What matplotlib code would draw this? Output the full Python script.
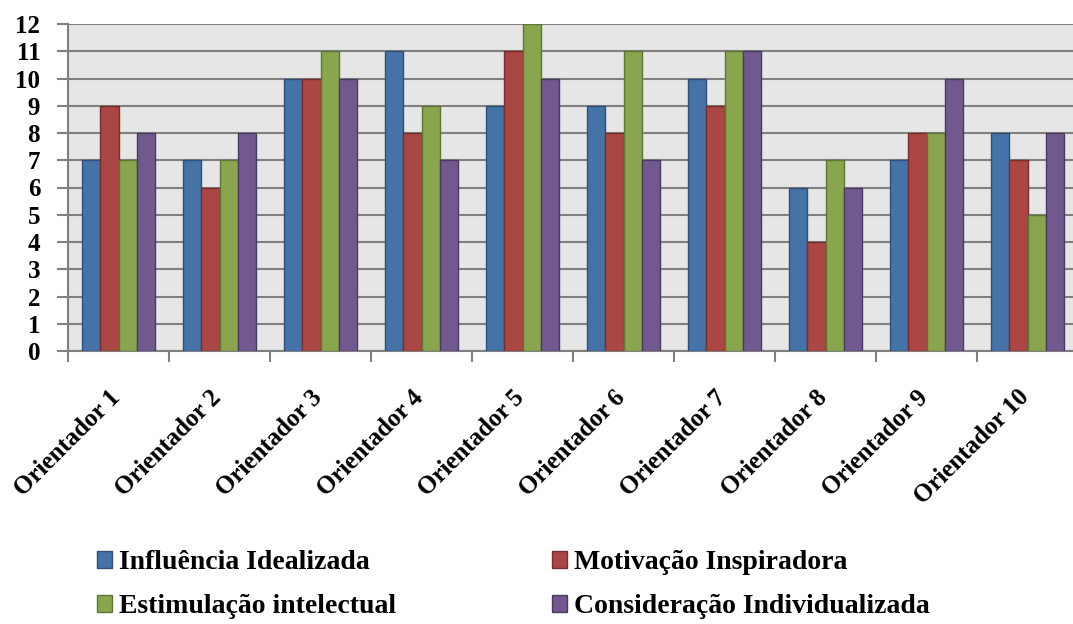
import matplotlib.pyplot as plt
import matplotlib.transforms as mtransforms
import numpy as np

orientadores = ['Orientador 1', 'Orientador 2', 'Orientador 3', 'Orientador 4', 'Orientador 5',
                'Orientador 6', 'Orientador 7', 'Orientador 8', 'Orientador 9', 'Orientador 10']
influencia = [7, 7, 10, 11, 9, 9, 10, 6, 7, 8]
motivacao = [9, 6, 10, 8, 11, 8, 9, 4, 8, 7]
estimulacao = [7, 7, 11, 9, 12, 11, 11, 7, 8, 5]
consideracao = [8, 8, 10, 7, 10, 7, 11, 6, 10, 8]

series = [
    ('Influência Idealizada', influencia, '#4572A7', '#2F4F7A'),
    ('Motivação Inspiradora', motivacao, '#AA4643', '#7A2E2C'),
    ('Estimulação intelectual', estimulacao, '#89A54E', '#5E7634'),
    ('Consideração Individualizada', consideracao, '#71588F', '#4A3A60'),
]

plt.rcParams['font.family'] = ['Liberation Serif', 'DejaVu Serif']
plt.rcParams['font.weight'] = 'bold'

fig = plt.figure(figsize=(10.73, 6.24), dpi=100)
ax = fig.add_axes([68 / 1073, 1 - 351 / 624, 1010 / 1073, 327 / 624])
ax.set_facecolor('#E6E6E6')

x = np.arange(len(orientadores))
width = 0.18
offsets = [-0.27, -0.09, 0.09, 0.27]
handles = []
for (name, vals, color, edge), off in zip(series, offsets):
    b = ax.bar(x + off, vals, width, color=color, edgecolor=edge, linewidth=1, label=name, zorder=3)
    handles.append(b)

ax.set_xlim(-0.5, len(orientadores) - 0.5)
ax.set_ylim(0, 12)
ax.set_yticks(range(0, 13))
ax.grid(axis='y', color='#808080', linewidth=1.5, zorder=1)
ax.set_axisbelow(True)

# ticks at group boundaries, labels drawn separately at group centres
ax.set_xticks(np.arange(-0.5, len(orientadores), 1.0))
ax.set_xticklabels([])
ax.tick_params(axis='x', length=8, width=1.5, color='#808080')
ax.tick_params(axis='y', length=8, width=1.5, color='#808080', pad=12, labelsize=18)
for lbl in ax.get_yticklabels():
    lbl.set_fontweight('bold')

trans = mtransforms.blended_transform_factory(ax.transData, ax.transAxes) + \
    mtransforms.ScaledTranslation(-7.5 / 72, -25 / 72, fig.dpi_scale_trans)
for i, name in enumerate(orientadores):
    ax.text(i, 0, name, transform=trans, rotation=45, ha='right', va='top',
            rotation_mode='anchor', fontsize=18, fontweight='bold')

for s in ['top', 'right']:
    ax.spines[s].set_visible(False)
for s in ['left', 'bottom']:
    ax.spines[s].set_color('#808080')
    ax.spines[s].set_linewidth(1.5)

# column-major fill: row 1 = Influência, Motivação; row 2 = Estimulação, Consideração
order = [0, 2, 1, 3]
fig.legend(handles=[handles[k] for k in order], labels=[series[k][0] for k in order],
           loc='upper left', bbox_to_anchor=(97 / 1073, 1 - 550 / 624), ncol=2,
           frameon=False, prop={'family': 'Liberation Serif', 'weight': 'bold', 'size': 20},
           handlelength=0.55, handleheight=0.55, handletextpad=0.25, columnspacing=5.6,
           labelspacing=0.7, borderpad=0, borderaxespad=0)

fig.savefig('out.png', dpi=100)
